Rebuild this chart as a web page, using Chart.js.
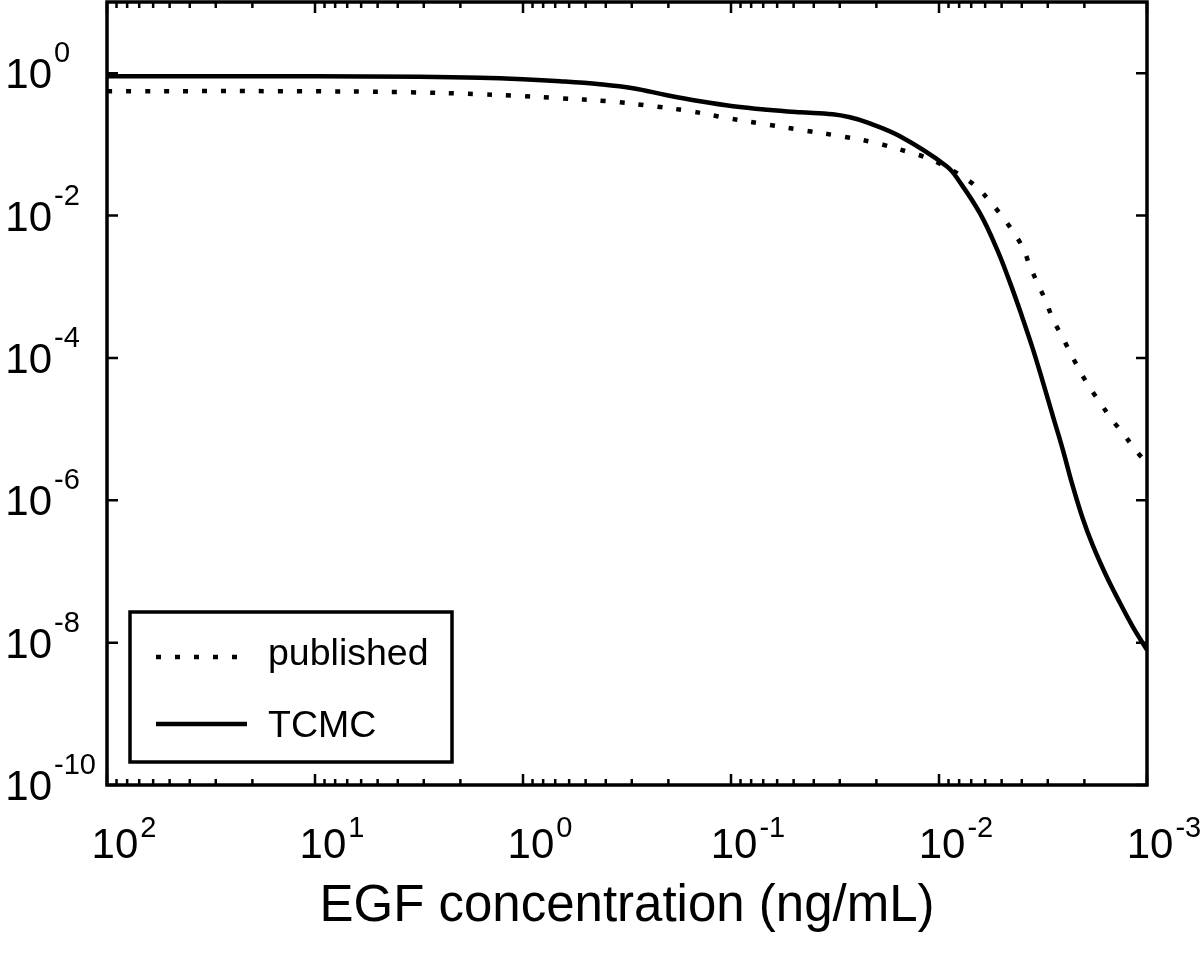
<!DOCTYPE html>
<html>
<head>
<meta charset="utf-8">
<script src="https://cdn.jsdelivr.net/npm/chart.js@4/dist/chart.umd.min.js"></script>
<style>
  html, body { margin: 0; padding: 0; background: #fff; }
  #myChart { display: block; }
</style>
</head>
<body>
<canvas id="myChart" width="1200" height="957"></canvas>
<script>
'use strict';

// EGF concentration (ng/mL)
var publishedX = [100, 11.8, 3.90, 1.61, 1.0, 0.664, 0.394, 0.259, 0.157, 0.103, 0.0733, 0.0482, 0.0316,
  0.0208, 0.0139, 0.0113, 0.00936, 0.00775, 0.00656, 0.00569, 0.00498, 0.00441, 0.00394, 0.00365,
  0.00334, 0.00306, 0.00283, 0.00256, 0.00234, 0.00212, 0.00190, 0.00168, 0.00149, 0.00130, 0.00115, 0.001];
var publishedY = [0.558, 0.558, 0.541, 0.507, 0.475, 0.445, 0.404, 0.355, 0.292, 0.233, 0.198, 0.163, 0.134,
  0.107, 0.0775, 0.0638, 0.0492, 0.0356, 0.0249, 0.0158, 0.00975, 0.0060, 0.00346, 0.00193,
  0.00108, 6.21e-4, 3.47e-4, 2.0e-4, 1.19e-4, 6.87e-5, 3.96e-5, 2.36e-5, 1.41e-5, 8.65e-6, 5.32e-6, 3.27e-6];

var tcmcX = [100, 31.6, 10, 3.16, 1.61, 1.0, 0.664, 0.427, 0.296, 0.203, 0.141, 0.0977, 0.0671, 0.0466,
  0.0324, 0.0268, 0.0222, 0.0154, 0.00916, 0.00793, 0.00635, 0.00526, 0.00456, 0.00399, 0.00353,
  0.00316, 0.00283, 0.00254, 0.00230, 0.00205, 0.00182, 0.00157, 0.00135, 0.00117, 0.001];
var tcmcY = [0.908, 0.908, 0.905, 0.89, 0.864, 0.823, 0.772, 0.700, 0.615, 0.49, 0.404, 0.344, 0.307, 0.283,
  0.265, 0.24, 0.204, 0.130, 0.049, 0.0293, 0.0107, 0.00335, 0.00115, 3.82e-4, 1.31e-4,
  4.5e-5, 1.5e-5, 5.15e-6, 1.77e-6, 5.88e-7, 2.30e-7, 8.7e-8, 3.63e-8, 1.67e-8, 7.9e-9];

// tick values and their exponents
var xTickValues = [100, 10, 1, 0.1, 0.01, 0.001];
var xTickLabels = ['2', '1', '0', '-1', '-2', '-3'];
var yTickValues = [1, 1e-2, 1e-4, 1e-6, 1e-8, 1e-10];
var yTickLabels = ['0', '-2', '-4', '-6', '-8', '-10'];

var FONT = '"Liberation Sans", Arial, Helvetica, sans-serif';

function points(xs, ys) {
  return xs.map(function(x, i) { return { x: x, y: ys[i] }; });
}

function drawPower(c, exp, left, base, raise) {
  c.font = '42px ' + FONT;
  c.textAlign = 'left';
  c.textBaseline = 'alphabetic';
  c.fillText('10', left, base);
  var w = c.measureText('10').width;
  c.font = '29px ' + FONT;
  c.fillText(exp, left + w + 2, base - raise);
}

function powerWidth(c, exp) {
  c.font = '42px ' + FONT;
  var w = c.measureText('10').width;
  c.font = '29px ' + FONT;
  return w + 2 + c.measureText(exp).width;
}

var frame = {
  id: 'frame',
  afterDraw: function(chart) {
    var c = chart.ctx, a = chart.chartArea;
    var sx = chart.scales.x, sy = chart.scales.y;
    c.save();
    c.strokeStyle = '#000';
    c.fillStyle = '#000';

    // ticks on all four sides, pointing inwards
    c.lineWidth = 2.5;
    c.beginPath();
    sx.ticks.forEach(function(t) {
      var px = sx.getPixelForValue(t.value);
      var len = t.major ? 11 : 6;
      c.moveTo(px, a.bottom); c.lineTo(px, a.bottom - len);
      c.moveTo(px, a.top); c.lineTo(px, a.top + len);
    });
    sy.ticks.forEach(function(t) {
      var py = sy.getPixelForValue(t.value);
      c.moveTo(a.left, py); c.lineTo(a.left + 11, py);
      c.moveTo(a.right, py); c.lineTo(a.right - 11, py);
    });
    c.stroke();

    // box
    c.lineWidth = 3.5;
    c.strokeRect(a.left, a.top, a.right - a.left, a.bottom - a.top);

    // tick labels as 10 with a raised exponent
    xTickValues.forEach(function(v, i) {
      var px = sx.getPixelForValue(v);
      var w = powerWidth(c, xTickLabels[i]);
      drawPower(c, xTickLabels[i], px + 17 - w / 2, 858, 21);
    });
    yTickValues.forEach(function(v, i) {
      var py = sy.getPixelForValue(v);
      c.font = '42px ' + FONT;
      var w = c.measureText('10').width;
      drawPower(c, yTickLabels[i], 52 - w, py + 15, 26);
    });

    // legend
    var lx = 130, ly = 612, lw = 322, lh = 150;
    c.fillStyle = '#fff';
    c.fillRect(lx, ly, lw, lh);
    c.lineWidth = 3.5;
    c.strokeRect(lx, ly, lw, lh);
    c.fillStyle = '#000';
    c.textBaseline = 'alphabetic';
    chart.data.datasets.forEach(function(ds, i) {
      var y = i === 0 ? 657 : 724;
      c.save();
      c.lineWidth = ds.borderWidth;
      c.lineCap = 'butt';
      c.setLineDash(ds.borderDash || []);
      c.beginPath();
      c.moveTo(156, y);
      c.lineTo(i === 0 ? 240 : 247, y);
      c.stroke();
      c.restore();
      c.font = '37.5px ' + FONT;
      c.textAlign = 'left';
      c.fillText(ds.label, 268, y + 8 + (i === 0 ? 0 : 5));
    });
    c.restore();
  }
};

var ctx = document.getElementById('myChart').getContext('2d');

var chart = new Chart(ctx, {
  type: 'line',
  data: {
    datasets: [{
      label: 'published',
      data: points(publishedX, publishedY),
      borderColor: '#000',
      borderWidth: 4.5,
      borderDash: [5, 14],
      pointRadius: 0,
      tension: 0.4,
      fill: false
    },
    {
      label: 'TCMC',
      data: points(tcmcX, tcmcY),
      borderColor: '#000',
      borderWidth: 4.5,
      pointRadius: 0,
      tension: 0.4,
      fill: false
    }]
  },
  options: {
    responsive: false,
    animation: false,
    devicePixelRatio: 1,
    layout: { padding: { top: 2, right: 53, left: 0, bottom: 0 } },
    plugins: {
      legend: { display: false },
      tooltip: { enabled: false }
    },
    scales: {
      x: {
        type: 'logarithmic',
        reverse: true,
        min: 0.001,
        max: 100,
        border: { display: false },
        grid: { display: false },
        ticks: { display: false },
        title: {
          display: true,
          text: 'EGF concentration (ng/mL)',
          color: '#000',
          font: { family: FONT, size: 51 },
          padding: { top: 0, bottom: 19 }
        },
        afterBuildTicks: function(s) {
          var out = [];
          xTickValues.forEach(function(v, i) {
            out.push({ value: v, major: true });
            if (i < xTickValues.length - 1) {
              for (var m = 2; m <= 9; m++) {
                out.push({ value: xTickValues[i + 1] * m, major: false });
              }
            }
          });
          s.ticks = out;
        },
        afterFit: function(s) { s.height = 172; }
      },
      y: {
        type: 'logarithmic',
        min: 1e-10,
        max: 10,
        border: { display: false },
        grid: { display: false },
        ticks: { display: false },
        afterBuildTicks: function(s) {
          s.ticks = yTickValues.map(function(v) { return { value: v, major: true }; });
        },
        afterFit: function(s) { s.width = 107; }
      }
    }
  },
  plugins: [frame]
});
</script>
</body>
</html>
